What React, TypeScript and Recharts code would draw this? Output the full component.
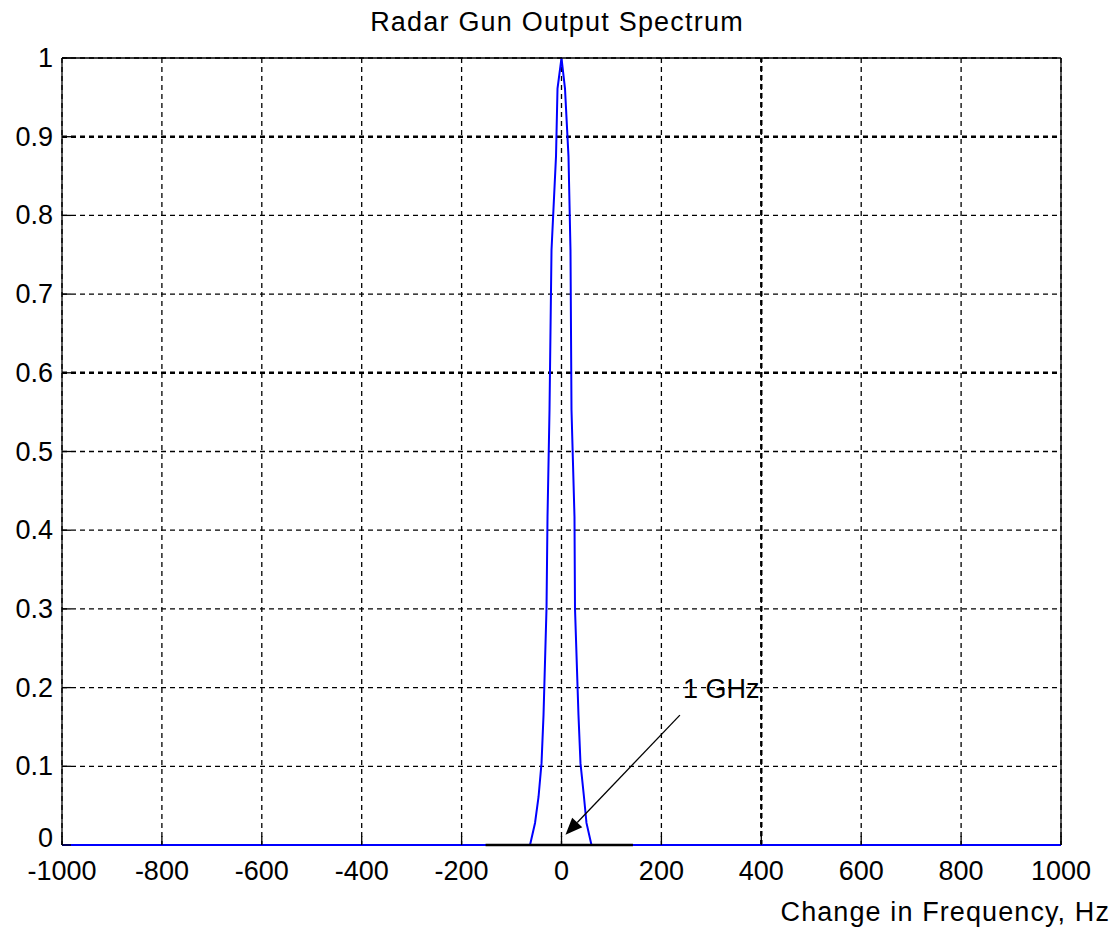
import React from 'react'
import { CartesianGrid, Line, LineChart, ReferenceLine, XAxis, YAxis } from 'recharts'

// spectrum trace (Hz offset vs normalised power)
const freqHz = [-1000, -63, -53, -46, -40, -36, -30, -28, -24, -20, -11, -8, 0, 7, 14, 18, 20, 26, 27, 34, 38, 45, 50, 60, 1000]
const power = [0, 0, 0.028, 0.061, 0.104, 0.165, 0.301, 0.417, 0.553, 0.756, 0.875, 0.961, 1, 0.961, 0.875, 0.756, 0.553, 0.417, 0.301, 0.165, 0.104, 0.061, 0.028, 0, 0]

// short black trace lying on the baseline under the peak
const baseFreq = [-152, 143]
const basePower = [0, 0]

const xTicks = [-1000, -800, -600, -400, -200, 0, 200, 400, 600, 800, 1000]
const yTicks = [0, 0.1, 0.2, 0.3, 0.4, 0.5, 0.6, 0.7, 0.8, 0.9, 1]

// annotation arrow: tail -> tip
const arrowFrom = { x: 237, y: 0.165 }
const arrowTo = { x: 8, y: 0.013 }
const arrowText = '1 GHz'

const spectrum = freqHz.map((f, i) => ({ f, p: power[i] }))
const baseline = baseFreq.map((f, i) => ({ f, p: basePower[i] }))

const FONT = "'Liberation Sans', Arial, sans-serif"
const TICK = 9

const fmtY = (v: number) => String(Number(v.toFixed(1)))

const BottomTick = (props: any) => {
  const { x, y, payload } = props
  return (
    <g>
      <line x1={x} y1={y} x2={x} y2={y - TICK} stroke="#000" strokeWidth={1.3} />
      <text x={x} y={y + 35} textAnchor="middle" fontFamily={FONT} fontSize={27} fill="#000">
        {payload.value}
      </text>
    </g>
  )
}

const TopTick = (props: any) => {
  const { x, y } = props
  return <line x1={x} y1={y} x2={x} y2={y + TICK} stroke="#000" strokeWidth={1.3} />
}

const LeftTick = (props: any) => {
  const { x, y, payload } = props
  return (
    <g>
      <line x1={x} y1={y} x2={x + TICK} y2={y} stroke="#000" strokeWidth={1.3} />
      <text x={x - 9} y={y} dy={payload.value === 0 ? -7 : 0} textAnchor="end" dominantBaseline="central" fontFamily={FONT} fontSize={27} fill="#000">
        {fmtY(payload.value)}
      </text>
    </g>
  )
}

const RightTick = (props: any) => {
  const { x, y } = props
  return <line x1={x} y1={y} x2={x - TICK} y2={y} stroke="#000" strokeWidth={1.3} />
}

const Arrow = (props: any) => {
  const { x1, y1, x2, y2 } = props
  const dx = x2 - x1
  const dy = y2 - y1
  const len = Math.sqrt(dx * dx + dy * dy) || 1
  const ux = dx / len
  const uy = dy / len
  const hl = 17
  const hw = 7
  const bx = x2 - ux * hl
  const by = y2 - uy * hl
  const pts = `${x2},${y2} ${bx - uy * hw},${by + ux * hw} ${bx + uy * hw},${by - ux * hw}`
  return (
    <g>
      <line x1={x1} y1={y1} x2={bx} y2={by} stroke="#000" strokeWidth={1.3} />
      <polygon points={pts} fill="#000" />
      <text x={x1 + 3} y={y1 - 26} dominantBaseline="central" fontFamily={FONT} fontSize={27} fill="#000">
        {arrowText}
      </text>
    </g>
  )
}

export default function App() {
  return (
    <div style={{ position: 'absolute', left: 0, top: 0, width: 1120, height: 932, background: '#fff' }}>
      <LineChart width={1120} height={932} margin={{ top: 0, right: 0, bottom: 0, left: 0 }}>
        <text x={557} y={22} textAnchor="middle" dominantBaseline="central" fontFamily={FONT} fontSize={27} letterSpacing={1.2} fill="#000">
          Radar Gun Output Spectrum
        </text>
        <text x={1110} y={912} textAnchor="end" dominantBaseline="central" fontFamily={FONT} fontSize={27} letterSpacing={1.1} fill="#000">
          Change in Frequency, Hz
        </text>
        <CartesianGrid stroke="#000" strokeDasharray="5 4" strokeWidth={1.3} />
        <XAxis
          dataKey="f"
          type="number"
          domain={[-1000, 1000]}
          ticks={xTicks}
          height={87}
          tickSize={0}
          tickMargin={0}
          tick={<BottomTick />}
          axisLine={false}
          tickLine={false}
        />
        <XAxis
          xAxisId="top"
          orientation="top"
          type="number"
          domain={[-1000, 1000]}
          ticks={xTicks}
          height={58}
          tickSize={0}
          tickMargin={0}
          tick={<TopTick />}
          axisLine={{ stroke: '#000', strokeWidth: 1.3 }}
          tickLine={false}
        />
        <YAxis
          type="number"
          domain={[0, 1]}
          ticks={yTicks}
          width={62}
          tickSize={0}
          tickMargin={0}
          tick={<LeftTick />}
          axisLine={{ stroke: '#000', strokeWidth: 1.3 }}
          tickLine={false}
          interval={0}
        />
        <YAxis
          yAxisId="right"
          orientation="right"
          type="number"
          domain={[0, 1]}
          ticks={yTicks}
          width={59}
          tickSize={0}
          tickMargin={0}
          tick={<RightTick />}
          axisLine={{ stroke: '#000', strokeWidth: 1.3 }}
          tickLine={false}
          interval={0}
        />
        <ReferenceLine y={0.9} stroke="#000" strokeWidth={2.4} strokeDasharray="5 4" />
        <ReferenceLine y={0.6} stroke="#000" strokeWidth={2.4} strokeDasharray="5 4" />
        <ReferenceLine x={400} stroke="#000" strokeWidth={2.4} strokeDasharray="5 4" />
        <Line
          data={spectrum}
          dataKey="p"
          type="linear"
          stroke="#0000ff"
          strokeWidth={2}
          dot={false}
          activeDot={false}
          isAnimationActive={false}
        />
        <Line
          data={baseline}
          dataKey="p"
          type="linear"
          stroke="#000"
          strokeWidth={2.5}
          dot={false}
          activeDot={false}
          isAnimationActive={false}
        />
        <ReferenceLine segment={[arrowFrom, arrowTo]} shape={<Arrow />} />
      </LineChart>
    </div>
  )
}
